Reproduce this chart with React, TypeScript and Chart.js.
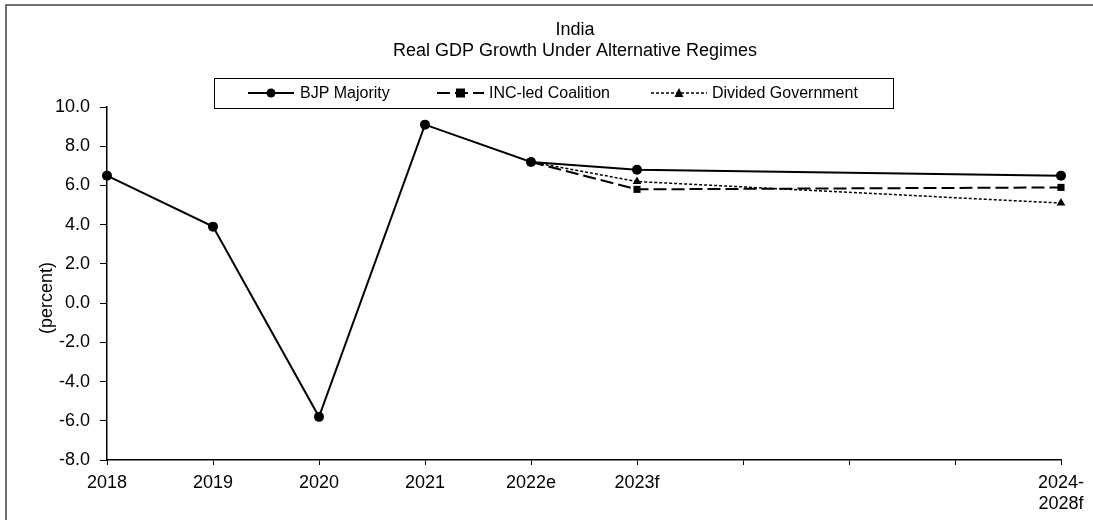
import React, { useEffect, useRef } from "react";
import { Chart, registerables } from "chart.js";

Chart.register(...registerables);

// Period labels along the x axis (blank slots space out the multi-year forecast)
const categories: (string | string[])[] = [
  "2018", "2019", "2020", "2021", "2022e", "2023f", "", "", "", ["2024-", "2028f"],
];

// Real GDP growth, percent
const bjpMajority = [6.5, 3.9, -5.8, 9.1, 7.2, 6.8, null, null, null, 6.5];
const incCoalition = [null, null, null, null, 7.2, 5.8, null, null, null, 5.9];
const dividedGov = [null, null, null, null, 7.2, 6.2, null, null, null, 5.1];

const seriesNames = ["BJP Majority", "INC-led Coalition", "Divided Government"];
const titleLines = ["India", "Real GDP Growth Under Alternative Regimes"];
const yAxisTitle = "(percent)";

const FONT = "'Liberation Sans', Arial, sans-serif";

// Frame, title, boxed legend and y-axis caption
const decorations = {
  id: "decorations",
  afterDraw(chart: any) {
    const ctx = chart.ctx as CanvasRenderingContext2D;
    ctx.save();

    // outer frame (top and left edges fall inside the canvas)
    ctx.strokeStyle = "#404040";
    ctx.lineWidth = 1.5;
    ctx.beginPath();
    ctx.moveTo(6, chart.height);
    ctx.lineTo(6, 5);
    ctx.lineTo(chart.width, 5);
    ctx.stroke();

    // title
    ctx.fillStyle = "#000";
    ctx.font = `18px ${FONT}`;
    ctx.textAlign = "center";
    ctx.textBaseline = "middle";
    ctx.fillText(titleLines[0], 575, 30);
    ctx.fillText(titleLines[1], 575, 51);

    // y-axis caption
    ctx.save();
    ctx.translate(47, 298);
    ctx.rotate(-Math.PI / 2);
    ctx.fillText(yAxisTitle, 0, 0);
    ctx.restore();

    // legend box
    ctx.strokeStyle = "#000";
    ctx.lineWidth = 1;
    ctx.strokeRect(214.5, 78.5, 679, 30);

    const items = [
      { x0: 248, x1: 294, text: 300 },
      { x0: 437, x1: 484, text: 489 },
      { x0: 651, x1: 707, text: 712 },
    ];
    const cy = 93;
    ctx.font = `16px ${FONT}`;
    ctx.textAlign = "left";
    chart.data.datasets.forEach((ds: any, i: number) => {
      const it = items[i];
      ctx.save();
      ctx.strokeStyle = ds.borderColor;
      ctx.lineWidth = ds.borderWidth;
      ctx.setLineDash(ds.borderDash || []);
      ctx.beginPath();
      ctx.moveTo(it.x0, cy);
      ctx.lineTo(it.x1, cy);
      ctx.stroke();
      ctx.restore();
      const mx = (it.x0 + it.x1) / 2;
      ctx.fillStyle = "#000";
      ctx.beginPath();
      if (ds.pointStyle === "circle") {
        ctx.arc(mx, cy, 4.5, 0, Math.PI * 2);
      } else if (ds.pointStyle === "rect") {
        ctx.rect(mx - 4.5, cy - 4.5, 9, 9);
      } else {
        ctx.moveTo(mx, cy - 5);
        ctx.lineTo(mx + 4.5, cy + 4);
        ctx.lineTo(mx - 4.5, cy + 4);
        ctx.closePath();
      }
      ctx.fill();
      ctx.fillText(ds.label, it.text, cy + 1);
    });

    ctx.restore();
  },
};

export default function App() {
  const canvasRef = useRef<HTMLCanvasElement | null>(null);

  useEffect(() => {
    const canvas = canvasRef.current;
    if (!canvas) return;
    const chart = new Chart(canvas, {
      type: "line",
      data: {
        labels: categories as any,
        datasets: [
          {
            label: seriesNames[0],
            data: bjpMajority,
            borderColor: "#000",
            backgroundColor: "#000",
            borderWidth: 2,
            pointStyle: "circle",
            pointRadius: 5,
            pointBackgroundColor: "#000",
            pointBorderWidth: 0,
            order: 3,
          },
          {
            label: seriesNames[1],
            data: incCoalition,
            borderColor: "#000",
            backgroundColor: "#000",
            borderWidth: 2,
            borderDash: [13, 5],
            pointStyle: "rect",
            pointRadius: 5,
            pointBackgroundColor: "#000",
            pointBorderWidth: 0,
            order: 2,
          },
          {
            label: seriesNames[2],
            data: dividedGov,
            borderColor: "#000",
            backgroundColor: "#000",
            borderWidth: 1.5,
            borderDash: [3, 2],
            pointStyle: "triangle",
            pointRadius: 5,
            pointBackgroundColor: "#000",
            pointBorderWidth: 0,
            order: 1,
          },
        ] as any,
      },
      options: {
        responsive: false,
        animation: false,
        spanGaps: true,
        layout: { padding: { top: 107, right: 32, left: 0, bottom: 0 } },
        plugins: {
          legend: { display: false },
          title: { display: false },
          tooltip: { enabled: false },
        },
        elements: { line: { tension: 0 } },
        scales: {
          x: {
            type: "category",
            offset: false,
            afterFit: (s: any) => { s.height = 60; },
            grid: {
              display: true,
              drawOnChartArea: false,
              drawTicks: true,
              tickLength: 5,
              color: "#000",
            },
            border: { color: "#000", width: 1.5 },
            ticks: {
              autoSkip: false,
              maxRotation: 0,
              padding: 7,
              color: "#000",
              font: { family: FONT, size: 18 },
            },
          },
          y: {
            min: -8,
            max: 10,
            afterFit: (s: any) => { s.width = 107; },
            grid: {
              display: true,
              drawOnChartArea: false,
              drawTicks: true,
              tickLength: 7,
              color: "#000",
            },
            border: { color: "#000", width: 1.5 },
            ticks: {
              stepSize: 2,
              padding: 10,
              color: "#000",
              font: { family: FONT, size: 18 },
              callback: (v: any) => Number(v).toFixed(1),
            },
          },
        },
      },
      plugins: [decorations],
    });
    return () => chart.destroy();
  }, []);

  return (
    <div style={{ position: "absolute", left: 0, top: 0, width: 1093, height: 520, background: "#fff" }}>
      <canvas ref={canvasRef} width={1093} height={520} style={{ display: "block" }} />
    </div>
  );
}
